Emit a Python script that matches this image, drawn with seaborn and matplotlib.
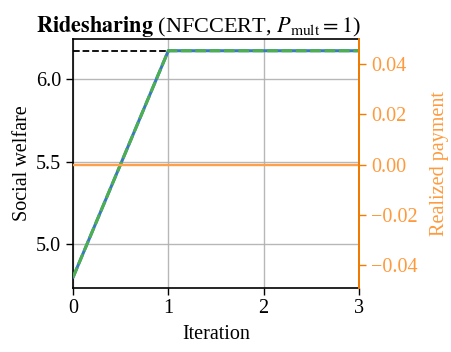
import numpy as np
import pandas as pd
import seaborn as sns
import matplotlib.pyplot as plt

# Dados
iteracoes = [0, 1, 2, 3]
bem_estar = [4.80, 6.171, 6.171, 6.171]
bem_estar_otimo = 6.171
pagamentos = [0.0, 0.0, 0.0, 0.0]

sns.set_style('white')
plt.rcParams['font.family'] = ['Liberation Serif', 'DejaVu Serif']
plt.rcParams['mathtext.fontset'] = 'stix'
plt.rcParams['axes.unicode_minus'] = True
plt.rcParams['text.color'] = 'black'
plt.rcParams['axes.labelcolor'] = 'black'
plt.rcParams['xtick.color'] = 'black'
plt.rcParams['ytick.color'] = 'black'

df = pd.DataFrame({'Iteration': iteracoes, 'Welfare': bem_estar, 'Payment': pagamentos})

fig = plt.figure(figsize=(4.51, 3.52), dpi=100)
ax = fig.add_axes([73 / 451, 1 - 287.5 / 352, 286 / 451, 248.5 / 352])

ax.grid(True, color='#b0b0b0', linewidth=1.0, alpha=0.9)
ax.set_axisbelow(True)
ax.axhline(bem_estar_otimo, color='black', linestyle='--', linewidth=1.3, zorder=2)
sns.lineplot(data=df, x='Iteration', y='Welfare', ax=ax, color='#3a78c2', linewidth=2.2, zorder=3)
sns.lineplot(data=df, x='Iteration', y='Welfare', ax=ax, color='#4caf50', linewidth=2.2,
             linestyle=(0, (3.5, 1.2)), zorder=4)

ax.set_xlim(0, 3)
ax.set_ylim(4.739, 6.242)
ax.set_xticks([0, 1, 2, 3])
ax.set_yticks([5.0, 5.5, 6.0])
ax.set_xlabel('Iteration', fontsize=14.5, labelpad=5)
ax.set_ylabel('Social welfare', fontsize=14.5, labelpad=3)
ax.tick_params(labelsize=14.5, direction='out', length=5, width=1, left=True, bottom=True)
for s in ax.spines.values():
    s.set_linewidth(1.2)
    s.set_color('black')

laranja = '#ff9a3c'
ax2 = ax.twinx()
sns.lineplot(data=df, x='Iteration', y='Payment', ax=ax2, color='#ffa04d', linewidth=1.7)
ax2.set_ylim(-0.0490, 0.0500)
ax2.set_yticks([-0.04, -0.02, 0.0, 0.02, 0.04])
ax2.set_yticklabels(['\u22120.04', '\u22120.02', '0.00', '0.02', '0.04'])
ax2.set_ylabel('Realized payment', fontsize=14.5, color=laranja, labelpad=9)
ax2.tick_params(axis='y', labelsize=14.5, colors=laranja, direction='out', length=5, width=1, right=True)
ax2.tick_params(axis='y', color='#f57c00')
ax2.spines['right'].set_color('#f57c00')
ax2.spines['right'].set_linewidth(1.4)
ax2.spines['left'].set_visible(False)
ax2.spines['top'].set_visible(False)
ax2.spines['bottom'].set_visible(False)
ax2.set_xlim(0, 3)

ax.set_title(r'$\mathbf{Ridesharing}$ (NFCCERT, $P_{\mathrm{mult}}=1$)', fontsize=16, pad=5,
             x=(198.5 - 73) / 286)

fig.savefig('out.png', dpi=100)
